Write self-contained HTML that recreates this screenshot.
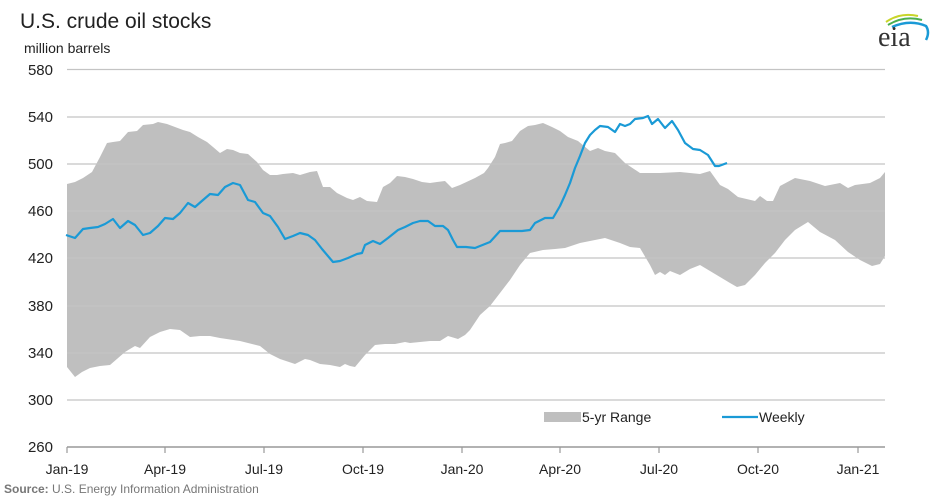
<!DOCTYPE html>
<html><head><meta charset="utf-8"><style>
html,body{margin:0;padding:0;background:#fff;}
svg{display:block;font-family:"Liberation Sans",Arial,sans-serif;}
</style></head><body>
<svg width="934" height="499" viewBox="0 0 934 499" xmlns="http://www.w3.org/2000/svg">
<rect width="934" height="499" fill="#fff"/>
<text x="20" y="28" font-size="21" fill="#222">U.S. crude oil stocks</text>
<text x="24" y="53" font-size="14" fill="#222">million barrels</text>
<path d="M886 22 Q900 12 918 16" stroke="#c8d52a" stroke-width="2" fill="none"/>
<path d="M888 25 Q904 15 922 20" stroke="#4caf50" stroke-width="2" fill="none"/>
<path d="M892 27 Q910 19 926 26 Q930 32 926 40" stroke="#1a9ad6" stroke-width="2.5" fill="none"/>
<text x="878" y="46" font-family="Liberation Serif,serif" font-size="28" fill="#333">eia</text>
<polygon fill="#bfbfbf" points="67,184 75,182 83,178 92,172 100,157 107,143 113,142 120,141 128,132 137,131 143,125 153,124 158,122 167,124 175,127 183,130 190,132 198,137 207,142 213,147 220,153 227,149 233,150 240,153 248,154 257,162 263,170 270,175 277,175 283,174 293,173 300,175 310,172 317,171 323,187 330,187 337,193 347,198 353,200 360,197 367,201 377,202 383,187 390,183 397,176 405,177 413,179 422,182 430,183 437,182 445,181 452,188 460,185 475,178 484,173 488,168 495,157 500,144 505,143 512,141 520,131 528,126 535,125 543,123 552,127 560,131 568,137 578,141 590,151 598,148 605,151 615,153 625,163 640,173 660,173 680,172 700,174 710,171 720,185 728,189 738,197 755,201 760,196 767,201 773,201 780,186 795,178 810,181 825,186 840,183 848,188 855,185 870,183 880,178 885,172
885,256 880,264 872,266 860,260 848,252 835,240 820,232 808,222 795,230 785,240 775,253 765,263 755,275 745,285 737,287 730,283 720,277 710,271 700,265 690,269 680,275 670,271 665,275 660,272 655,275 650,265 640,248 630,247 620,243 605,238 580,243 565,248 555,249 543,250 530,253 520,265 510,280 500,293 490,306 480,315 470,330 465,335 458,339 448,336 440,341 430,341 420,342 410,343 405,342 395,344 385,344 375,345 365,355 355,367 350,366 345,364 340,367 330,365 320,364 310,360 305,359 295,364 280,359 270,354 260,346 240,341 220,338 210,336 200,336 190,337 180,330 170,329 160,332 150,337 140,348 135,346 125,352 110,365 100,366 90,368 82,372 75,377 67,367"/>
<g stroke="#c4c4c4" stroke-width="1.2">
<line x1="67" y1="69.5" x2="885" y2="69.5"/>
<line x1="67" y1="117" x2="885" y2="117"/>
<line x1="67" y1="164" x2="885" y2="164"/>
<line x1="67" y1="211" x2="885" y2="211"/>
<line x1="67" y1="258" x2="885" y2="258"/>
<line x1="67" y1="306" x2="885" y2="306"/>
<line x1="67" y1="353" x2="885" y2="353"/>
<line x1="67" y1="400" x2="885" y2="400"/>
</g>
<line x1="67" y1="447" x2="885" y2="447" stroke="#999" stroke-width="1.5"/>
<g stroke="#999" stroke-width="1.2">
<line x1="67" y1="447" x2="67" y2="453"/><line x1="165" y1="447" x2="165" y2="453"/>
<line x1="264" y1="447" x2="264" y2="453"/><line x1="363" y1="447" x2="363" y2="453"/>
<line x1="462" y1="447" x2="462" y2="453"/><line x1="560" y1="447" x2="560" y2="453"/>
<line x1="659" y1="447" x2="659" y2="453"/><line x1="758" y1="447" x2="758" y2="453"/>
<line x1="858" y1="447" x2="858" y2="453"/>
</g>
<polyline fill="none" stroke="#1a9ad6" stroke-width="2.2" stroke-linejoin="round" points="66,235 75,238 83,229 90,228 98,227 105,224 113,219 120,228 128,221 135,225 143,235 150,233 158,226 165,218 173,219 180,213 188,203 195,207 203,200 210,194 218,195 225,187 233,183 240,185 248,200 255,202 263,213 270,216 278,227 285,239 293,236 300,233 308,235 315,240 322,249 333,262 340,261 348,258 357,254 362,253 365,245 373,241 380,244 388,238 398,230 405,227 413,223 420,221 428,221 435,226 443,226 448,230 453,240 457,247 466,247 475,248 490,242 500,231 522,231 530,230 535,223 545,218 553,218 560,206 565,195 570,183 575,168 580,156 585,143 590,135 595,130 600,126 608,127 615,132 620,124 625,126 630,124 635,119 643,118 648,116 652,124 658,119 665,128 672,121 678,130 685,143 693,149 700,150 708,155 715,166 719,166 727,163"/>
<g font-size="15" fill="#222" text-anchor="end">
<text x="53" y="75">580</text><text x="53" y="122">540</text><text x="53" y="169">500</text>
<text x="53" y="216">460</text><text x="53" y="263">420</text><text x="53" y="311">380</text>
<text x="53" y="358">340</text><text x="53" y="405">300</text><text x="53" y="452">260</text>
</g>
<g font-size="14" fill="#222" text-anchor="middle">
<text x="67" y="474">Jan-19</text><text x="165" y="474">Apr-19</text><text x="264" y="474">Jul-19</text>
<text x="363" y="474">Oct-19</text><text x="462" y="474">Jan-20</text><text x="560" y="474">Apr-20</text>
<text x="659" y="474">Jul-20</text><text x="758" y="474">Oct-20</text><text x="858" y="474">Jan-21</text>
</g>
<rect x="544" y="412" width="37" height="10" fill="#bfbfbf"/>
<text x="582" y="422" font-size="14" fill="#222">5-yr Range</text>
<line x1="722" y1="417" x2="758" y2="417" stroke="#1a9ad6" stroke-width="2.2"/>
<text x="759" y="422" font-size="14" fill="#222">Weekly</text>
<text x="4" y="493" font-size="12" fill="#777"><tspan font-weight="bold">Source:</tspan> U.S. Energy Information Administration</text>
</svg>
</body></html>
